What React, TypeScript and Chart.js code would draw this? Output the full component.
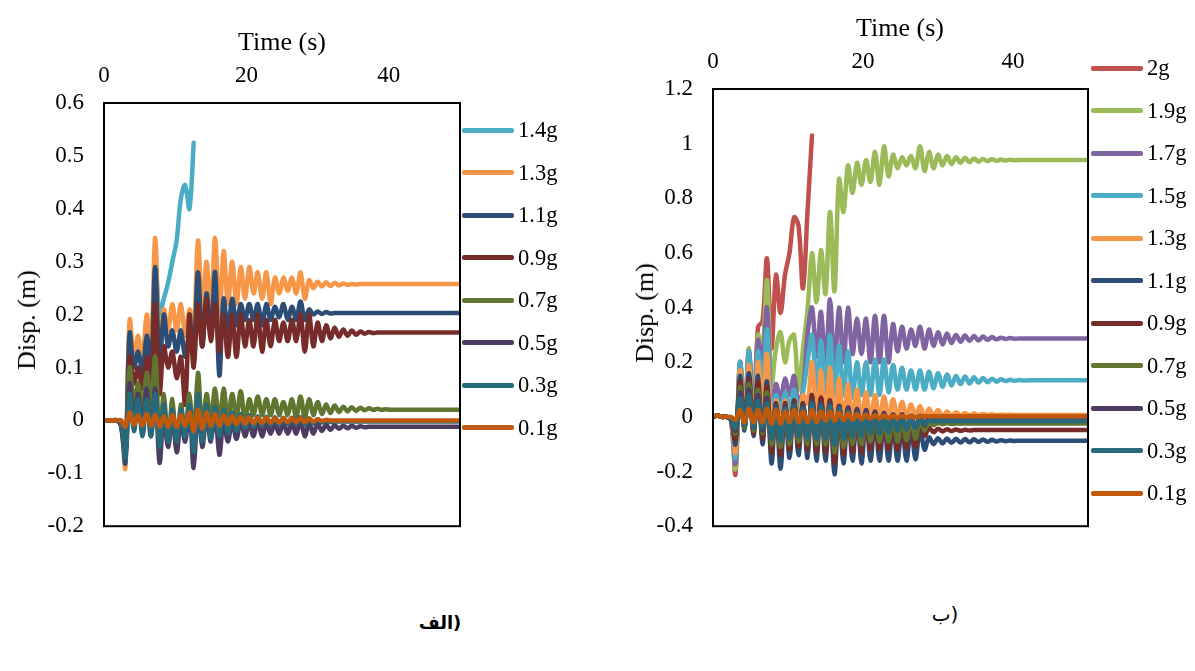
import React, { useEffect, useRef } from "react";
import { Chart, registerables } from "chart.js";

Chart.register(...registerables);

const FONT = "'Liberation Serif', 'Times New Roman', serif";

// time axis (s)
const TIME = [
  0, 0.6, 1.2, 1.8, 2.4, 3, 3.6, 4.2, 4.8, 5.4,
  6, 6.6, 7.2, 7.8, 8.4, 9, 9.6, 10.2, 10.8, 11.4,
  12, 12.6, 13.2, 13.8, 14.4, 15, 15.6, 16.2, 16.8, 17.4,
  18, 18.6, 19.2, 19.8, 20.4, 21, 21.6, 22.2, 22.8, 23.4,
  24, 24.6, 25.2, 25.8, 26.4, 27, 27.6, 28.2, 28.8, 29.4,
  30, 30.6, 31.2, 31.8, 32.4, 33, 33.6, 34.2, 34.8, 35.4,
  36, 36.6, 37.2, 37.8, 38.4, 39, 39.6, 40.2, 40.8, 41.4,
  42, 50,
];
const X_TICKS = [0, 20, 40];

// ---------- panel (a) ----------
const L_14 = [
  0, 0, 0, 0, -0.01, -0.07, 0.17, 0.11, 0.15, 0.1,
  0.19, 0.12, 0.3, 0.2, 0.23, 0.26, 0.3, 0.34, 0.42, 0.445,
  0.4, 0.525,
];
const L_13 = [
  0, 0, 0, 0, -0.01, -0.09, 0.19, 0.12, 0.16, 0.11,
  0.2, 0.13, 0.345, 0.12, 0.21, 0.17, 0.22, 0.17, 0.22, 0.16,
  0.21, 0.17, 0.34, 0.2, 0.3, 0.2, 0.345, 0.19, 0.32, 0.22,
  0.3, 0.22, 0.29, 0.23, 0.29, 0.24, 0.28, 0.23, 0.28, 0.22,
  0.27, 0.24, 0.27, 0.245, 0.27, 0.24, 0.28, 0.23, 0.265, 0.25,
  0.262, 0.253, 0.261, 0.254, 0.26, 0.255, 0.259, 0.256, 0.258, 0.257,
  0.258, 0.258, 0.258, 0.258, 0.258, 0.258, 0.258, 0.258, 0.258, 0.258,
  0.258, 0.258,
];
const L_11 = [
  0, 0, 0, 0, -0.01, -0.08, 0.165, 0.1, 0.13, 0.09,
  0.16, 0.1, 0.29, 0.1, 0.2, 0.14, 0.17, 0.13, 0.17, 0.12,
  0.16, 0.14, 0.28, 0.14, 0.24, 0.16, 0.28, 0.085, 0.23, 0.17,
  0.23, 0.18, 0.22, 0.19, 0.22, 0.19, 0.22, 0.18, 0.22, 0.19,
  0.215, 0.195, 0.22, 0.19, 0.215, 0.19, 0.225, 0.19, 0.21, 0.2,
  0.206, 0.201, 0.205, 0.202, 0.203, 0.203, 0.203, 0.203, 0.203, 0.203,
  0.203, 0.203, 0.203, 0.203, 0.203, 0.203, 0.203, 0.203, 0.203, 0.203,
  0.203, 0.203,
];
const L_09 = [
  0, 0, 0, 0, -0.01, -0.06, 0.12, 0.07, 0.1, 0.06,
  0.12, 0.07, 0.22, 0.05, 0.14, 0.1, 0.13, 0.08, 0.12, 0.03,
  0.2, 0.1, 0.22, 0.14, 0.23, 0.15, 0.22, 0.13, 0.2, 0.12,
  0.2, 0.12, 0.2, 0.14, 0.19, 0.14, 0.2, 0.13, 0.19, 0.14,
  0.19, 0.15, 0.185, 0.15, 0.19, 0.15, 0.2, 0.13, 0.2, 0.14,
  0.185, 0.15, 0.18, 0.155, 0.175, 0.158, 0.172, 0.16, 0.17, 0.162,
  0.168, 0.164, 0.167, 0.165, 0.166, 0.166, 0.166, 0.166, 0.166, 0.166,
  0.166, 0.166,
];
const L_07 = [
  0, 0, 0, 0, -0.005, -0.05, 0.1, 0.03, 0.07, 0.02,
  0.09, 0.03, 0.12, -0.04, 0.05, -0.05, 0.04, -0.06, 0.03, -0.03,
  0.05, -0.04, 0.09, -0.02, 0.05, 0.0, 0.06, -0.01, 0.06, 0.0,
  0.05, 0.005, 0.055, 0.0, 0.04, 0.01, 0.045, 0.01, 0.04, 0.01,
  0.04, 0.01, 0.035, 0.01, 0.04, 0.005, 0.045, 0.005, 0.04, 0.01,
  0.035, 0.012, 0.03, 0.014, 0.028, 0.016, 0.026, 0.017, 0.025, 0.018,
  0.024, 0.019, 0.023, 0.02, 0.022, 0.02, 0.021, 0.02, 0.02, 0.02,
  0.02, 0.02,
];
const L_05 = [
  0, 0, 0, 0, -0.005, -0.06, 0.07, -0.01, 0.05, -0.02,
  0.06, -0.03, 0.06, -0.08, 0.01, -0.05, 0.01, -0.06, 0.0, -0.04,
  0.02, -0.09, 0.03, -0.05, 0.01, -0.04, 0.02, -0.065, 0.0, -0.04,
  0.0, -0.035, 0.0, -0.03, -0.005, -0.03, 0.0, -0.03, -0.005, -0.025,
  -0.005, -0.025, -0.005, -0.025, -0.005, -0.025, 0.0, -0.03, -0.005, -0.025,
  -0.006, -0.02, -0.008, -0.018, -0.009, -0.016, -0.01, -0.015, -0.01, -0.014,
  -0.011, -0.013, -0.012, -0.012, -0.012, -0.012, -0.012, -0.012, -0.012, -0.012,
  -0.012, -0.012,
];
const L_03 = [
  0, 0, 0, 0, -0.005, -0.07, 0.05, -0.02, 0.04, -0.03,
  0.04, -0.03, 0.05, -0.05, 0.03, -0.04, 0.02, -0.04, 0.02, -0.03,
  0.03, -0.06, 0.05, -0.04, 0.03, -0.035, 0.025, -0.03, 0.02, -0.025,
  0.015, -0.02, 0.012, -0.015, 0.01, -0.012, 0.008, -0.01, 0.007, -0.009,
  0.006, -0.008, 0.005, -0.007, 0.005, -0.006, 0.006, -0.008, 0.004, -0.006,
  0.002, -0.004, 0.0, -0.003, -0.002, -0.002, -0.002, -0.002, -0.002, -0.002,
  -0.002, -0.002, -0.002, -0.002, -0.002, -0.002, -0.002, -0.002, -0.002, -0.002,
  -0.002, -0.002,
];
const L_01 = [
  0, 0, 0, 0, 0, -0.012, 0.015, -0.008, 0.01, -0.01,
  0.012, -0.01, 0.01, -0.012, 0.008, -0.012, 0.01, -0.012, 0.01, -0.01,
  0.015, -0.02, 0.02, -0.015, 0.015, -0.01, 0.012, -0.01, 0.01, -0.008,
  0.008, -0.007, 0.007, -0.006, 0.006, -0.005, 0.005, -0.005, 0.005, -0.004,
  0.004, -0.004, 0.004, -0.003, 0.004, -0.003, 0.004, -0.003, 0.003, -0.002,
  0.002, -0.001, 0.001, 0, 0, 0, 0, 0, 0, 0,
  0, 0, 0, 0, 0, 0, 0, 0, 0, 0,
  0, 0,
];

// ---------- panel (b) ----------
const R_20 = [
  0, 0.005, 0, 0, -0.01, -0.21, 0.2, 0.0, 0.25, -0.03,
  0.33, 0.35, 0.58, 0.25, 0.52, 0.38, 0.52, 0.6, 0.73, 0.7,
  0.47, 0.75, 1.03,
];
const R_19 = [
  0, 0.005, 0, 0, -0.01, -0.19, 0.2, -0.01, 0.25, -0.04,
  0.3, 0.25, 0.5, 0.12, 0.25, 0.31, 0.2, 0.28, 0.3, 0.1,
  0.25, 0.39, 0.6, 0.42, 0.61, 0.45, 0.75, 0.46, 0.87, 0.75,
  0.92, 0.82, 0.93, 0.85, 0.94, 0.86, 0.97, 0.85, 0.99, 0.88,
  0.96, 0.91, 0.95, 0.92, 0.955, 0.91, 0.99, 0.9, 0.97, 0.91,
  0.96, 0.92, 0.955, 0.925, 0.95, 0.93, 0.948, 0.932, 0.946, 0.934,
  0.944, 0.936, 0.943, 0.937, 0.942, 0.938, 0.941, 0.939, 0.94, 0.94,
  0.94, 0.94,
];
const R_17 = [
  0, 0.005, 0, 0, -0.01, -0.17, 0.2, -0.02, 0.24, -0.04,
  0.28, 0.2, 0.4, 0.02, 0.12, 0.06, 0.14, 0.08, 0.15, 0.05,
  0.1, 0.3, 0.4, 0.22, 0.385, 0.18, 0.43, 0.17, 0.4, 0.2,
  0.4, 0.23, 0.36, 0.23, 0.36, 0.2, 0.37, 0.2, 0.37, 0.2,
  0.34, 0.24, 0.33, 0.25, 0.32, 0.26, 0.33, 0.25, 0.32, 0.26,
  0.31, 0.265, 0.305, 0.27, 0.3, 0.275, 0.298, 0.278, 0.296, 0.28,
  0.294, 0.282, 0.292, 0.284, 0.29, 0.285, 0.289, 0.286, 0.287, 0.287,
  0.287, 0.287,
];
const R_15 = [
  0, 0.005, 0, 0, -0.01, -0.15, 0.2, -0.02, 0.24, -0.05,
  0.24, 0.12, 0.32, 0.0, 0.08, 0.02, 0.09, 0.03, 0.1, 0.02,
  0.09, 0.2, 0.3, 0.1, 0.28, 0.09, 0.3, 0.08, 0.26, 0.08,
  0.24, 0.07, 0.2, 0.08, 0.2, 0.08, 0.21, 0.08, 0.21, 0.09,
  0.19, 0.1, 0.18, 0.1, 0.17, 0.1, 0.17, 0.1, 0.165, 0.105,
  0.16, 0.11, 0.155, 0.115, 0.15, 0.12, 0.148, 0.122, 0.145, 0.125,
  0.142, 0.127, 0.14, 0.129, 0.138, 0.131, 0.136, 0.132, 0.135, 0.133,
  0.134, 0.134,
];
const R_13 = [
  0, 0.005, 0, 0, -0.01, -0.13, 0.17, -0.02, 0.19, -0.05,
  0.2, 0.05, 0.23, -0.05, 0.06, -0.03, 0.06, -0.03, 0.06, -0.02,
  0.08, 0.05, 0.2, -0.02, 0.17, -0.03, 0.18, -0.04, 0.14, -0.03,
  0.12, -0.02, 0.1, -0.02, 0.09, -0.015, 0.08, -0.01, 0.075, -0.01,
  0.065, -0.005, 0.055, 0.0, 0.045, 0.0, 0.04, 0.0, 0.03, 0.002,
  0.025, 0.003, 0.02, 0.004, 0.017, 0.005, 0.014, 0.005, 0.012, 0.006,
  0.011, 0.006, 0.01, 0.006, 0.009, 0.007, 0.008, 0.007, 0.007, 0.007,
  0.007, 0.007,
];
const R_11 = [
  0, 0.005, 0, 0, -0.01, -0.1, 0.15, -0.05, 0.16, -0.07,
  0.15, -0.1, 0.13, -0.17, 0.05, -0.19, 0.05, -0.15, 0.06, -0.14,
  0.05, -0.15, 0.08, -0.16, 0.07, -0.16, 0.06, -0.21, 0.04, -0.17,
  0.03, -0.16, 0.02, -0.17, 0.01, -0.16, 0.0, -0.16, -0.01, -0.16,
  -0.02, -0.16, -0.03, -0.16, -0.035, -0.155, -0.04, -0.12, -0.075, -0.1,
  -0.078, -0.097, -0.079, -0.095, -0.08, -0.094, -0.081, -0.093, -0.082, -0.092,
  -0.083, -0.091, -0.084, -0.09, -0.085, -0.089, -0.086, -0.088, -0.087, -0.087,
  -0.087, -0.087,
];
const R_09 = [
  0, 0.005, 0, 0, -0.01, -0.08, 0.13, -0.04, 0.14, -0.06,
  0.13, -0.08, 0.11, -0.13, 0.05, -0.14, 0.05, -0.12, 0.06, -0.11,
  0.05, -0.12, 0.08, -0.13, 0.07, -0.13, 0.06, -0.17, 0.04, -0.14,
  0.03, -0.13, 0.025, -0.13, 0.015, -0.12, 0.01, -0.12, 0.0, -0.12,
  -0.005, -0.12, -0.01, -0.115, -0.015, -0.11, -0.02, -0.07, -0.04, -0.056,
  -0.043, -0.053, -0.045, -0.052, -0.046, -0.051, -0.047, -0.05, -0.048, -0.048,
  -0.048, -0.048, -0.048, -0.048, -0.048, -0.048, -0.048, -0.048, -0.048, -0.048,
  -0.048, -0.048,
];
const R_07 = [
  0, 0.005, 0, 0, -0.01, -0.06, 0.11, -0.04, 0.12, -0.05,
  0.1, -0.06, 0.09, -0.1, 0.04, -0.11, 0.04, -0.1, 0.05, -0.09,
  0.04, -0.1, 0.06, -0.1, 0.05, -0.1, 0.05, -0.13, 0.03, -0.11,
  0.02, -0.1, 0.02, -0.1, 0.01, -0.09, 0.01, -0.09, 0.0, -0.09,
  0.0, -0.09, -0.005, -0.085, -0.01, -0.08, -0.01, -0.05, -0.02, -0.03,
  -0.022, -0.027, -0.023, -0.026, -0.024, -0.025, -0.024, -0.024, -0.024, -0.024,
  -0.024, -0.024, -0.024, -0.024, -0.024, -0.024, -0.024, -0.024, -0.024, -0.024,
  -0.024, -0.024,
];
const R_05 = [
  0, 0.005, 0, 0, -0.01, -0.05, 0.09, -0.03, 0.1, -0.04,
  0.08, -0.05, 0.07, -0.08, 0.04, -0.08, 0.04, -0.07, 0.05, -0.07,
  0.04, -0.07, 0.06, -0.08, 0.05, -0.07, 0.05, -0.1, 0.04, -0.08,
  0.035, -0.07, 0.03, -0.07, 0.025, -0.06, 0.02, -0.06, 0.015, -0.055,
  0.01, -0.05, 0.01, -0.045, 0.005, -0.04, 0.005, -0.03, 0.0, -0.012,
  -0.003, -0.009, -0.004, -0.008, -0.005, -0.007, -0.006, -0.006, -0.006, -0.006,
  -0.006, -0.006, -0.006, -0.006, -0.006, -0.006, -0.006, -0.006, -0.006, -0.006,
  -0.006, -0.006,
];
const R_03 = [
  0, 0.005, 0, 0, -0.01, -0.04, 0.07, -0.03, 0.08, -0.04,
  0.06, -0.04, 0.05, -0.08, 0.03, -0.09, 0.03, -0.08, 0.04, -0.07,
  0.03, -0.08, 0.05, -0.08, 0.04, -0.08, 0.04, -0.1, 0.03, -0.08,
  0.02, -0.07, 0.015, -0.07, 0.01, -0.06, 0.005, -0.06, 0.0, -0.055,
  0.0, -0.05, -0.005, -0.045, -0.005, -0.04, -0.01, -0.025, -0.013, -0.017,
  -0.015, -0.015, -0.015, -0.015, -0.015, -0.015, -0.015, -0.015, -0.015, -0.015,
  -0.015, -0.015, -0.015, -0.015, -0.015, -0.015, -0.015, -0.015, -0.015, -0.015,
  -0.015, -0.015,
];
const R_01 = [
  0, 0.005, 0, 0, 0, -0.01, 0.025, -0.02, 0.03, -0.02,
  0.025, -0.02, 0.03, -0.025, 0.025, -0.025, 0.02, -0.02, 0.025, -0.02,
  0.02, -0.02, 0.025, -0.02, 0.02, -0.015, 0.02, -0.015, 0.015, -0.012,
  0.012, -0.01, 0.01, -0.008, 0.008, -0.006, 0.006, -0.005, 0.005, -0.004,
  0.004, -0.003, 0.003, -0.002, 0.002, -0.001, 0.002, 0.002, 0.002, 0.002,
  0.002, 0.002, 0.002, 0.002, 0.002, 0.002, 0.002, 0.002, 0.002, 0.002,
  0.002, 0.002, 0.002, 0.002, 0.002, 0.002, 0.002, 0.002, 0.002, 0.002,
  0.002, 0.002,
];

const LEFT_LABELS = ["1.4g", "1.3g", "1.1g", "0.9g", "0.7g", "0.5g", "0.3g", "0.1g"];
const LEFT_COLORS = ["#4BACC6", "#F79646", "#2C4D75", "#772C2A", "#5F7530", "#4D3B62", "#276A7C", "#C0590C"];
const LEFT_VALUES = [L_14, L_13, L_11, L_09, L_07, L_05, L_03, L_01];

const RIGHT_LABELS = ["2g", "1.9g", "1.7g", "1.5g", "1.3g", "1.1g", "0.9g", "0.7g", "0.5g", "0.3g", "0.1g"];
const RIGHT_COLORS = ["#C0504D", "#9BBB59", "#8064A2", "#4BACC6", "#F79646", "#2C4D75", "#772C2A", "#5F7530", "#4D3B62", "#276A7C", "#C0590C"];
const RIGHT_VALUES = [R_20, R_19, R_17, R_15, R_13, R_11, R_09, R_07, R_05, R_03, R_01];

const framePlugin = {
  id: "frame",
  afterDatasetsDraw(chart: any) {
    const { ctx, chartArea: a } = chart;
    ctx.save();
    ctx.strokeStyle = "#000";
    ctx.lineWidth = 2;
    ctx.strokeRect(a.left, a.top, a.right - a.left, a.bottom - a.top);
    ctx.restore();
  },
};

function buildConfig(labels: string[], colors: string[], values: number[][], yMin: number, yMax: number, yStep: number, pad: any) {
  const n = labels.length;
  return {
    type: "line" as const,
    data: {
      datasets: labels.map((lab, k) => ({
        label: lab,
        data: values[k].map((v, i) => ({ x: TIME[i], y: v })),
        borderColor: colors[k],
        backgroundColor: colors[k],
        borderWidth: 4.5,
        pointRadius: 0,
        tension: 0.35,
        fill: false,
        order: n - k,
        borderJoinStyle: "round" as const,
        borderCapStyle: "round" as const,
      })),
    },
    options: {
      animation: false as const,
      responsive: false,
      maintainAspectRatio: false,
      events: [],
      layout: { padding: pad },
      plugins: { legend: { display: false }, tooltip: { enabled: false }, title: { display: false } },
      scales: {
        x: {
          type: "linear" as const,
          position: "top" as const,
          min: 0,
          max: 50,
          grid: { display: false, drawTicks: false },
          border: { display: false },
          ticks: { font: { family: FONT, size: 23 }, color: "#000", padding: 13 },
          afterBuildTicks: (s: any) => {
            s.ticks = X_TICKS.map((v) => ({ value: v }));
          },
          afterFit: (s: any) => {
            s.height = 50;
          },
        },
        y: {
          type: "linear" as const,
          min: yMin,
          max: yMax,
          grid: { display: false, drawTicks: false },
          border: { display: false },
          ticks: {
            stepSize: yStep,
            font: { family: FONT, size: 23 },
            color: "#000",
            padding: 20,
            callback: (v: any) => String(Math.round(Number(v) * 10) / 10),
          },
          afterFit: (s: any) => {
            s.width = 100;
          },
        },
      },
    },
    plugins: [framePlugin],
  };
}

function ChartCanvas({ left, top, width, height, config }: any) {
  const ref = useRef<HTMLCanvasElement | null>(null);
  useEffect(() => {
    if (!ref.current) return;
    const chart = new Chart(ref.current, config);
    return () => chart.destroy();
  }, []);
  return (
    <canvas
      ref={ref}
      width={width}
      height={height}
      style={{ position: "absolute", left, top, width, height }}
    />
  );
}

function Legend({ labels, colors, x, y0, step }: any) {
  return (
    <>
      {labels.map((lab: string, k: number) => (
        <div key={lab} style={{ position: "absolute", left: x, top: y0 + step * k - 14, height: 28, display: "flex", alignItems: "center" }}>
          <div style={{ width: 52, height: 5, background: colors[k], borderRadius: 2 }} />
          <div style={{ marginLeft: 4, fontFamily: FONT, fontSize: 22.5, color: "#000", lineHeight: "28px" }}>{lab}</div>
        </div>
      ))}
    </>
  );
}

const textStyle = { position: "absolute" as const, fontFamily: FONT, color: "#000", whiteSpace: "nowrap" as const };

export default function App() {
  const leftCfg = buildConfig(LEFT_LABELS, LEFT_COLORS, LEFT_VALUES, -0.2, 0.6, 0.1, { left: 4, right: 140, top: 53, bottom: 23 });
  const rightCfg = buildConfig(RIGHT_LABELS, RIGHT_COLORS, RIGHT_VALUES, -0.4, 1.2, 0.2, { left: 13, right: 107, top: 39, bottom: 23 });
  return (
    <div style={{ position: "absolute", left: 0, top: 0, width: 1195, height: 671, background: "#fff", overflow: "hidden" }}>
      <ChartCanvas left={0} top={0} width={600} height={560} config={leftCfg} />
      <ChartCanvas left={600} top={0} width={595} height={560} config={rightCfg} />

      <div style={{ ...textStyle, left: 282, top: 42, fontSize: 26, transform: "translate(-50%, -50%)" }}>Time (s)</div>
      <div style={{ ...textStyle, left: 900, top: 28, fontSize: 26, transform: "translate(-50%, -50%)" }}>Time (s)</div>
      <div style={{ ...textStyle, left: 27, top: 320, fontSize: 26, transform: "translate(-50%, -50%) rotate(-90deg)" }}>Disp. (m)</div>
      <div style={{ ...textStyle, left: 645, top: 313, fontSize: 26, transform: "translate(-50%, -50%) rotate(-90deg)" }}>Disp. (m)</div>

      <Legend labels={LEFT_LABELS} colors={LEFT_COLORS} x={462} y0={130} step={42.5} />
      <Legend labels={RIGHT_LABELS} colors={RIGHT_COLORS} x={1091} y0={68} step={42.5} />

      <div dir="ltr" style={{ ...textStyle, left: 440, top: 622, fontSize: 18, fontWeight: "bold", fontFamily: "'DejaVu Sans', sans-serif", transform: "translate(-50%, -50%)" }}>الف)</div>
      <div dir="ltr" style={{ ...textStyle, left: 945, top: 614, fontSize: 20, fontFamily: "'DejaVu Sans', sans-serif", transform: "translate(-50%, -50%)" }}>ب)</div>
    </div>
  );
}
